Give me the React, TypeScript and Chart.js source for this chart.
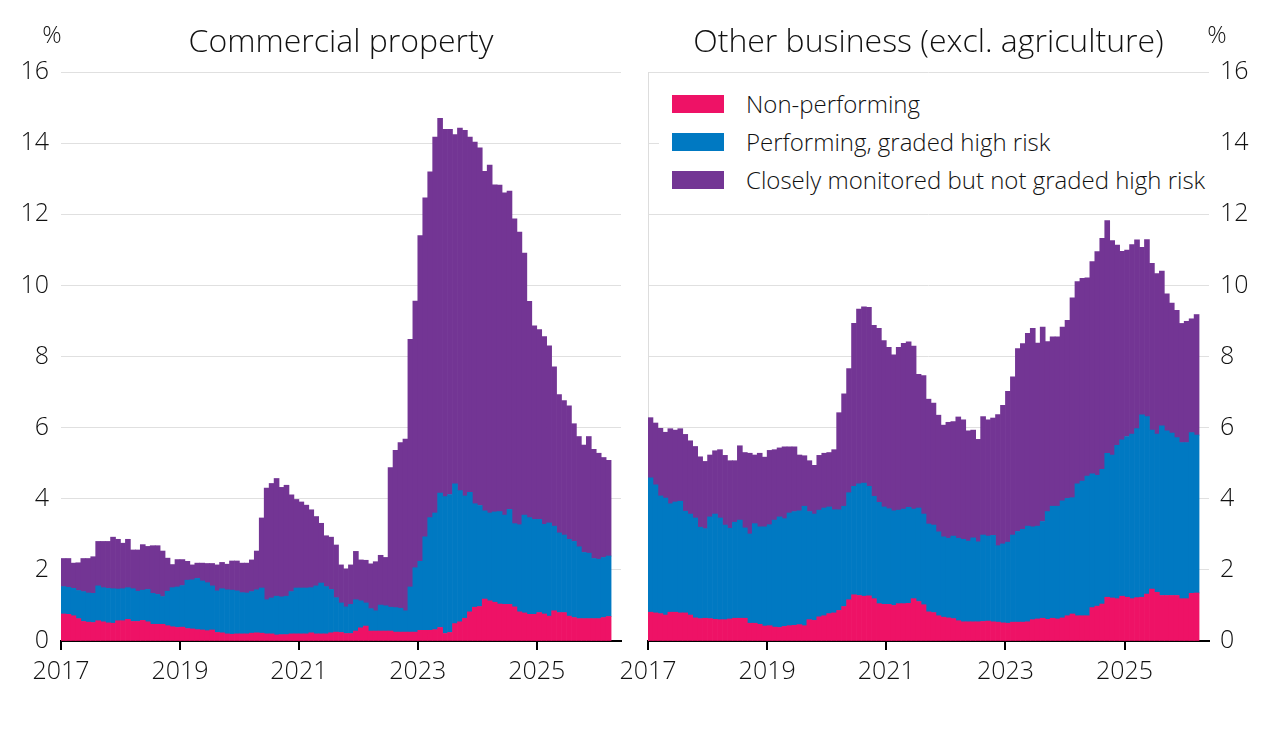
import React, { useEffect, useRef } from 'react';
import { Chart, registerables } from 'chart.js';

Chart.register(...registerables);

// ---- categories (monthly, Jan 2017 .. Mar 2026) ----
const startYear = 2017;
const monthCount = 111;
const monthPositions: number[] = Array.from({ length: monthCount }, (_, i) => startYear + (i + 0.5) / 12);
const xTickYears = [2017, 2019, 2021, 2023, 2025];
const xMax = 2026 + 5 / 12;
const yMax = 16;
const yStep = 2;

const seriesNames = ['Non-performing', 'Performing, graded high risk', 'Closely monitored but not graded high risk'];
const seriesColors = ['#EE1266', '#0079C2', '#733594'];
const panelTitles = ['Commercial property', 'Other business (excl. agriculture)'];

// ---- Commercial property (per cent) ----
const cpNonPerforming = [
  0.76, 0.75, 0.71, 0.63, 0.55, 0.53, 0.52, 0.57, 0.54, 0.51, 0.50, 0.57,
  0.57, 0.61, 0.55, 0.55, 0.58, 0.54, 0.47, 0.47, 0.47, 0.43, 0.40, 0.38,
  0.39, 0.35, 0.34, 0.32, 0.31, 0.29, 0.31, 0.24, 0.23, 0.20, 0.19, 0.20,
  0.20, 0.20, 0.22, 0.23, 0.22, 0.20, 0.20, 0.17, 0.18, 0.18, 0.20, 0.20,
  0.20, 0.20, 0.23, 0.20, 0.20, 0.20, 0.23, 0.25, 0.24, 0.21, 0.21, 0.28,
  0.37, 0.42, 0.28, 0.28, 0.28, 0.28, 0.28, 0.25, 0.25, 0.25, 0.25, 0.25,
  0.30, 0.30, 0.30, 0.32, 0.38, 0.21, 0.24, 0.49, 0.54, 0.64, 0.82, 0.95,
  0.97, 1.18, 1.13, 1.09, 1.04, 1.03, 1.03, 0.96, 0.82, 0.79, 0.75, 0.75,
  0.80, 0.76, 0.70, 0.85, 0.80, 0.80, 0.70, 0.66, 0.63, 0.63, 0.63, 0.63,
  0.63, 0.66, 0.69,
];
const cpHighRisk = [
  0.77, 0.76, 0.77, 0.79, 0.84, 0.82, 0.82, 0.98, 0.96, 0.97, 0.97, 0.89,
  0.90, 0.89, 0.92, 0.85, 0.85, 0.91, 0.87, 0.84, 0.78, 0.97, 1.10, 1.14,
  1.17, 1.36, 1.38, 1.44, 1.38, 1.35, 1.24, 1.17, 1.24, 1.24, 1.24, 1.21,
  1.16, 1.15, 1.17, 1.21, 1.27, 0.96, 1.01, 1.09, 1.06, 1.08, 1.19, 1.29,
  1.29, 1.29, 1.27, 1.35, 1.43, 1.33, 1.22, 0.97, 0.83, 0.75, 0.82, 0.88,
  0.76, 0.65, 0.63, 0.57, 0.73, 0.71, 0.67, 0.69, 0.67, 0.60, 1.27, 1.81,
  1.94, 2.63, 3.17, 3.28, 3.78, 3.85, 3.88, 3.93, 3.69, 3.44, 3.36, 2.91,
  2.84, 2.48, 2.47, 2.54, 2.60, 2.51, 2.67, 2.34, 2.45, 2.75, 2.72, 2.67,
  2.62, 2.52, 2.62, 2.38, 2.24, 2.18, 2.16, 2.14, 2.02, 1.86, 1.84, 1.69,
  1.67, 1.69, 1.70,
];
const cpMonitored = [
  0.79, 0.81, 0.71, 0.78, 0.93, 0.97, 1.03, 1.25, 1.30, 1.32, 1.45, 1.40,
  1.28, 1.36, 1.09, 1.16, 1.28, 1.21, 1.34, 1.37, 1.28, 0.93, 0.65, 0.77,
  0.73, 0.53, 0.42, 0.43, 0.50, 0.54, 0.63, 0.73, 0.74, 0.72, 0.82, 0.84,
  0.83, 0.84, 0.89, 1.09, 1.97, 3.14, 3.22, 3.31, 3.08, 3.12, 2.72, 2.49,
  2.42, 2.33, 2.19, 1.95, 1.68, 1.43, 1.47, 1.48, 1.07, 1.07, 1.11, 1.36,
  1.15, 1.20, 1.26, 1.38, 1.40, 1.36, 3.93, 4.42, 4.66, 4.83, 6.96, 7.50,
  9.16, 9.53, 9.72, 10.57, 10.54, 10.33, 10.27, 9.82, 10.19, 10.28, 9.99, 10.17,
  10.06, 9.55, 9.78, 9.20, 9.18, 9.06, 8.95, 8.57, 8.23, 7.37, 6.08, 5.44,
  5.34, 5.28, 4.98, 4.48, 3.89, 3.78, 3.75, 3.31, 3.10, 3.02, 3.28, 3.07,
  2.98, 2.81, 2.69,
];

// ---- Other business excl. agriculture (per cent) ----
const obNonPerforming = [
  0.81, 0.79, 0.77, 0.73, 0.81, 0.81, 0.79, 0.79, 0.73, 0.65, 0.63, 0.64,
  0.63, 0.61, 0.60, 0.60, 0.62, 0.64, 0.64, 0.64, 0.50, 0.50, 0.47, 0.42,
  0.43, 0.39, 0.38, 0.41, 0.43, 0.44, 0.46, 0.43, 0.60, 0.58, 0.68, 0.71,
  0.77, 0.79, 0.86, 0.97, 1.16, 1.30, 1.28, 1.26, 1.27, 1.19, 1.05, 1.03,
  1.03, 1.00, 1.05, 1.05, 1.06, 1.19, 1.11, 1.02, 0.82, 0.80, 0.71, 0.67,
  0.65, 0.63, 0.57, 0.54, 0.54, 0.54, 0.54, 0.55, 0.56, 0.54, 0.53, 0.51,
  0.50, 0.53, 0.53, 0.53, 0.54, 0.60, 0.62, 0.64, 0.61, 0.64, 0.62, 0.65,
  0.71, 0.76, 0.71, 0.71, 0.71, 0.94, 0.98, 1.04, 1.23, 1.21, 1.19, 1.26,
  1.23, 1.19, 1.22, 1.23, 1.32, 1.46, 1.37, 1.28, 1.28, 1.28, 1.28, 1.19,
  1.19, 1.34, 1.35,
];
const obHighRisk = [
  3.78, 3.60, 3.31, 3.29, 3.05, 3.10, 3.14, 2.86, 2.84, 2.81, 2.57, 2.52,
  2.86, 2.96, 2.86, 2.66, 2.55, 2.70, 2.76, 2.54, 2.51, 2.80, 2.74, 2.79,
  2.84, 3.01, 3.11, 3.03, 3.17, 3.20, 3.20, 3.36, 3.04, 2.99, 3.00, 3.03,
  3.00, 2.90, 2.83, 2.82, 3.01, 3.05, 3.14, 3.18, 3.08, 2.88, 2.85, 2.74,
  2.69, 2.66, 2.63, 2.66, 2.70, 2.52, 2.63, 2.55, 2.47, 2.46, 2.36, 2.26,
  2.24, 2.32, 2.32, 2.32, 2.27, 2.36, 2.25, 2.43, 2.39, 2.43, 2.15, 2.22,
  2.28, 2.45, 2.55, 2.61, 2.69, 2.61, 2.61, 2.72, 3.03, 3.15, 3.17, 3.29,
  3.30, 3.27, 3.71, 3.79, 3.93, 3.76, 3.68, 3.79, 4.05, 4.02, 4.31, 4.40,
  4.52, 4.63, 4.75, 5.13, 4.99, 4.47, 4.45, 4.77, 4.63, 4.57, 4.44, 4.39,
  4.39, 4.52, 4.44,
];
const obMonitored = [
  1.69, 1.74, 1.90, 1.85, 2.11, 2.02, 2.04, 2.16, 2.06, 2.01, 1.98, 1.89,
  1.74, 1.78, 1.92, 1.96, 1.90, 1.73, 2.09, 2.12, 2.27, 1.93, 2.07, 1.96,
  2.09, 1.98, 1.94, 2.02, 1.86, 1.82, 1.57, 1.42, 1.43, 1.37, 1.54, 1.54,
  1.53, 1.69, 2.73, 3.16, 3.49, 4.58, 4.91, 4.96, 5.03, 4.81, 4.89, 4.68,
  4.54, 4.39, 4.58, 4.66, 4.65, 4.58, 3.76, 3.89, 3.51, 3.43, 3.28, 3.14,
  3.26, 3.22, 3.41, 3.36, 3.10, 3.03, 2.88, 3.33, 3.27, 3.30, 3.69, 3.90,
  4.24, 4.45, 5.14, 5.22, 5.42, 5.58, 5.15, 5.47, 4.78, 4.76, 4.76, 4.89,
  5.01, 5.62, 5.69, 5.70, 5.57, 5.97, 6.29, 6.49, 6.54, 6.03, 5.63, 5.30,
  5.24, 5.33, 5.31, 4.71, 4.98, 4.69, 4.51, 4.35, 3.85, 3.65, 3.58, 3.35,
  3.41, 3.20, 3.39,
];

const FONT = '"Open Sans", "Noto Sans", sans-serif';
const TEXT = '#111111';
const WEIGHT = 300;

const panelTextPlugin = {
  id: 'panelText',
  beforeDatasetsDraw(chart: any, _args: any, opts: any) {
    if (!opts.leftRule) return;
    const { ctx, chartArea } = chart;
    ctx.save();
    ctx.strokeStyle = '#dddddd';
    ctx.lineWidth = 1;
    ctx.beginPath();
    ctx.moveTo(chartArea.left + 0.5, chartArea.top);
    ctx.lineTo(chartArea.left + 0.5, chartArea.bottom);
    ctx.stroke();
    ctx.restore();
  },
  afterDraw(chart: any, _args: any, opts: any) {
    const { ctx, chartArea } = chart;
    ctx.save();
    ctx.fillStyle = TEXT;
    ctx.textBaseline = 'alphabetic';
    ctx.textAlign = 'center';
    ctx.font = `${WEIGHT} 32px ${FONT}`;
    ctx.fillText(opts.title, (chartArea.left + chartArea.right) / 2, 52);
    ctx.font = `${WEIGHT} 24px ${FONT}`;
    ctx.fillText('%', opts.unitX, 43);
    ctx.restore();
  },
};

function makeConfig(side: 'left' | 'right', title: string, np: number[], hr: number[], cm: number[]): any {
  const series = [np, hr, cm];
  return {
    type: 'bar',
    data: {
      datasets: series.map((arr, k) => ({
        label: seriesNames[k],
        data: monthPositions.map((x, i) => ({ x, y: arr[i] })),
        backgroundColor: seriesColors[k],
        borderWidth: 0,
        barPercentage: 1,
        categoryPercentage: 1,
      })),
    },
    options: {
      animation: false,
      responsive: false,
      maintainAspectRatio: false,
      events: [],
      layout: {
        padding: side === 'left' ? { left: 0, right: 13, top: 72, bottom: 0 } : { left: 48, right: 0, top: 72, bottom: 0 },
      },
      plugins: {
        legend: { display: false },
        tooltip: { enabled: false },
        panelText: { title, unitX: side === 'left' ? 52 : 617, leftRule: side === 'right' },
      },
      scales: {
        x: {
          type: 'linear',
          stacked: true,
          offset: false,
          min: startYear,
          max: xMax,
          afterBuildTicks: (scale: any) => {
            scale.ticks = xTickYears.map((v) => ({ value: v }));
          },
          afterFit: (scale: any) => {
            scale.height = 89;
            scale.paddingLeft = 0;
            scale.paddingRight = 0;
          },
          ticks: {
            autoSkip: false,
            maxRotation: 0,
            padding: 7,
            color: TEXT,
            font: { family: FONT, size: 25, weight: WEIGHT },
            callback: (v: any) => String(v),
          },
          grid: { offset: false, drawOnChartArea: false, drawTicks: true, tickLength: 9, color: '#000', lineWidth: 2 },
          border: { display: true, color: '#000', width: 2 },
        },
        y: {
          position: side,
          stacked: true,
          min: 0,
          max: yMax,
          afterFit: (scale: any) => {
            scale.width = side === 'left' ? 61 : 70;
          },
          ticks: {
            stepSize: yStep,
            padding: side === 'left' ? 12 : 11,
            color: TEXT,
            font: { family: FONT, size: 25, weight: WEIGHT },
            callback: (v: any) => String(v),
          },
          grid: { color: '#e0e0e0', lineWidth: 1, drawTicks: false },
          border: { display: false },
        },
      },
    },
    plugins: [panelTextPlugin],
  };
}

export default function App() {
  const leftRef = useRef<HTMLCanvasElement | null>(null);
  const rightRef = useRef<HTMLCanvasElement | null>(null);

  useEffect(() => {
    const charts: Chart[] = [];
    if (leftRef.current) {
      charts.push(new Chart(leftRef.current, makeConfig('left', panelTitles[0], cpNonPerforming, cpHighRisk, cpMonitored)));
    }
    if (rightRef.current) {
      charts.push(new Chart(rightRef.current, makeConfig('right', panelTitles[1], obNonPerforming, obHighRisk, obMonitored)));
    }
    return () => charts.forEach((c) => c.destroy());
  }, []);

  return (
    <div style={{ position: 'absolute', left: 0, top: 0, width: 1279, height: 730, background: '#fff', overflow: 'hidden' }}>
      <canvas ref={leftRef} width={634} height={730} style={{ position: 'absolute', left: 0, top: 0, width: 634, height: 730 }} />
      <canvas ref={rightRef} width={679} height={730} style={{ position: 'absolute', left: 600, top: 0, width: 679, height: 730 }} />
      <div style={{ position: 'absolute', left: 659, top: 78, width: 551, height: 127, background: '#fff' }}>
        {seriesNames.map((name, i) => (
          <div key={name} style={{ position: 'absolute', left: 13, top: 17 + i * 38, height: 18, display: 'flex', alignItems: 'center' }}>
            <span style={{ display: 'inline-block', width: 52, height: 18, background: seriesColors[i] }} />
            <span style={{ marginLeft: 22, fontFamily: FONT, fontWeight: WEIGHT, fontSize: 24, lineHeight: '18px', color: TEXT, whiteSpace: 'nowrap' }}>{name}</span>
          </div>
        ))}
      </div>
    </div>
  );
}
